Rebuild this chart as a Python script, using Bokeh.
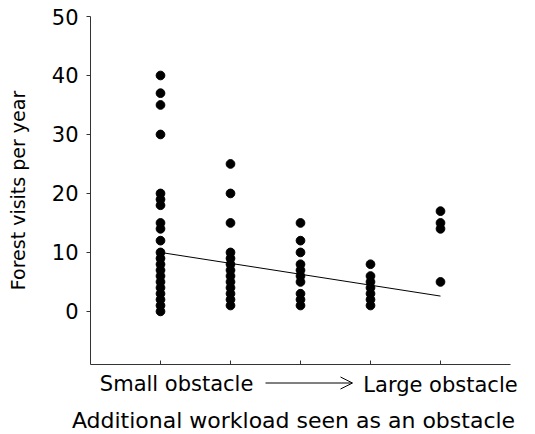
from bokeh.plotting import figure
from bokeh.models import FixedTicker, Arrow, OpenHead, Range1d
from bokeh.core.properties import value
from bokeh.embed import file_html
from bokeh.resources import INLINE

# Data
group_1 = [0, 1, 2, 3, 4, 5, 6, 7, 8, 9, 10, 12, 14, 15, 18, 19, 20, 30, 35, 37, 40]
group_2 = [1, 2, 3, 4, 5, 6, 7, 8, 9, 10, 15, 20, 25]
group_3 = [1, 2, 3, 5, 6, 7, 8, 10, 12, 15]
group_4 = [1, 2, 3, 4, 5, 6, 8]
group_5 = [5, 14, 15, 17]
groups = [group_1, group_2, group_3, group_4, group_5]
group_positions = [1, 2, 3, 4, 5]

trend_x = [1, 5]
trend_y = [10.0, 2.6]

y_ticks = [0, 10, 20, 30, 40, 50]
low_label = "Small obstacle"
high_label = "Large obstacle"
x_title = "Additional workload seen as an obstacle"
y_title = "Forest visits per year"

FONT = "DejaVu Sans"
AXIS_COLOR = "#333333"

WIDTH = 535
LEFT = 90
RIGHT = 25
X_MIN, X_MAX = 0, 6

xs, ys = [], []
for pos, vals in zip(group_positions, groups):
    xs += [pos] * len(vals)
    ys += vals

# ---- main scatter panel ----
p = figure(width=WIDTH, height=370, output_backend="svg", toolbar_location=None,
           x_range=Range1d(X_MIN, X_MAX), y_range=Range1d(-9, 50),
           min_border_left=LEFT, min_border_right=RIGHT, min_border_top=16, min_border_bottom=6)
p.outline_line_color = None
p.xgrid.visible = False
p.ygrid.visible = False

p.scatter(xs, ys, size=8.7, color="black")
p.line(trend_x, trend_y, line_color="black", line_width=1)

ya = p.yaxis[0]
ya.ticker = FixedTicker(ticks=y_ticks)
ya.major_tick_out = 4
ya.major_tick_in = 0
ya.minor_tick_line_color = None
ya.axis_line_color = AXIS_COLOR
ya.major_tick_line_color = AXIS_COLOR
ya.major_label_text_font = FONT
ya.major_label_text_font_size = "21px"
ya.major_label_text_color = "black"
ya.major_label_standoff = 8
ya.axis_label = y_title
ya.axis_label_text_font = FONT
ya.axis_label_text_font_size = "19px"
ya.axis_label_text_font_style = "normal"
ya.axis_label_text_color = "black"
ya.axis_label_standoff = 20

xa = p.xaxis[0]
xa.ticker = FixedTicker(ticks=group_positions)
xa.major_tick_in = 4
xa.major_tick_out = 0
xa.minor_tick_line_color = None
xa.axis_line_color = AXIS_COLOR
xa.major_tick_line_color = AXIS_COLOR
xa.major_label_overrides = {pos: "" for pos in group_positions}
xa.major_label_text_font_size = "0px"
xa.major_label_standoff = 0

# ---- strip below with the obstacle scale and the axis title ----
# Full-width frame with the same x mapping (units per pixel) as the main panel
px_per_unit = (WIDTH - LEFT - RIGHT) / (X_MAX - X_MIN)
strip_range = Range1d(X_MIN - LEFT / px_per_unit, X_MAX + RIGHT / px_per_unit)

p2 = figure(width=WIDTH, height=64, output_backend="svg", toolbar_location=None,
            x_range=strip_range, y_range=Range1d(0, 64),
            x_axis_type=None, y_axis_type=None,
            min_border_left=0, min_border_right=0, min_border_top=0, min_border_bottom=0)
p2.outline_line_color = None

p2.text(x=[1.23, 5.0], y=[51, 49.5], text=[low_label, high_label],
        text_font=value(FONT), text_font_size=value("21px"), text_color="black",
        text_align="center", text_baseline="middle")
p2.text(x=[2.9], y=[14], text=[x_title],
        text_font=value(FONT), text_font_size=value("22px"), text_color="black",
        text_align="center", text_baseline="middle")
p2.add_layout(Arrow(x_start=2.5, y_start=51.5, x_end=3.743, y_end=51.5,
                    line_color="black", line_width=1,
                    end=OpenHead(size=12, line_color="black", line_width=1)))

# Two separate roots stacked on the page (no frame alignment between them)
open("out.html", "w").write(file_html([p, p2], INLINE))
